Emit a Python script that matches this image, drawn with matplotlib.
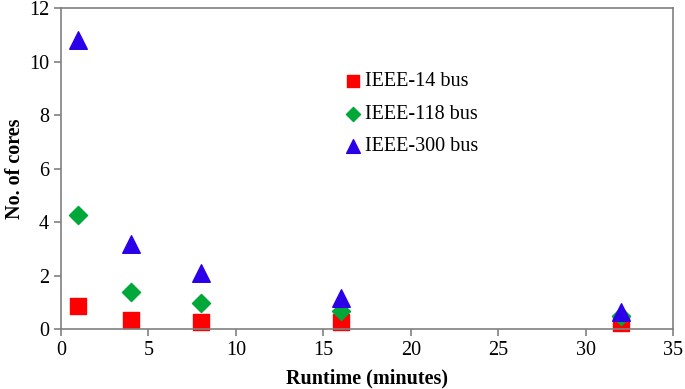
import matplotlib
matplotlib.use("Agg")
import matplotlib.pyplot as plt

runtime = [1, 4, 8, 16, 32]
ieee14 = [0.86, 0.35, 0.27, 0.26, 0.22]
ieee118 = [4.25, 1.39, 0.97, 0.67, 0.48]
ieee300 = [10.8, 3.17, 2.08, 1.16, 0.63]

plt.rcParams['font.family'] = ['Liberation Serif', 'DejaVu Serif']

fig = plt.figure(figsize=(6.85, 3.89), dpi=100)
ax = fig.add_axes([0.089, 0.154, 0.8935, 0.825])

ax.scatter(runtime, ieee14, marker='s', s=125, color='#FF0000', label='IEEE-14 bus', zorder=2, clip_on=False)
ax.scatter(runtime, ieee118, marker='D', s=85, color='#00A83A', label='IEEE-118 bus', zorder=3)
ax.scatter(runtime, ieee300, marker='^', s=160, color='#2B00E8', label='IEEE-300 bus', zorder=4)

ax.set_xlim(0, 35)
ax.set_ylim(0, 12)
ax.set_xticks(range(0, 36, 5))
ax.set_yticks(range(0, 13, 2))
for s in ax.spines.values():
    s.set_color('#808080')
    s.set_linewidth(1.2)
ax.tick_params(axis='both', colors='#808080', labelcolor='black', labelsize=14.5, length=5, width=1.2)
ax.set_xlabel('Runtime (minutes)', fontsize=14.5, fontweight='bold', labelpad=6)
ax.set_ylabel('No. of cores', fontsize=14.5, fontweight='bold', labelpad=3)

leg = ax.legend(loc='upper left', bbox_to_anchor=(0.447, 0.825), frameon=False, fontsize=14.5,
                handlelength=1.0, handletextpad=0.1, labelspacing=0.66, markerscale=0.78,
                borderaxespad=0)

fig.savefig('out.png', dpi=100)
